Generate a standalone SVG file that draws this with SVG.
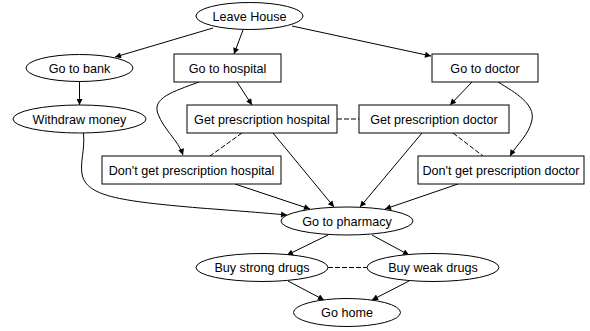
<svg xmlns="http://www.w3.org/2000/svg" width="590" height="331" viewBox="0 0 590 331">
<defs>
<marker id="ah" viewBox="0 0 10 10" refX="10" refY="5" markerWidth="8" markerHeight="6" markerUnits="userSpaceOnUse" orient="auto">
<path d="M0,0 L10,5 L0,10 z" fill="#000"/>
</marker>
<style>
.n ellipse, .n rect { fill: #fff; stroke: #000; stroke-width: 1; }
.n text { font-family: "Liberation Sans", Arial, sans-serif; font-size: 12.6px; text-anchor: middle; fill: #000; }
.e path { fill: none; stroke: #000; stroke-width: 1; }
.e .a { marker-end: url(#ah); }
.e .d { stroke-dasharray: 5,2; }
</style>
</defs>
<rect width="590" height="331" fill="#fff"/>
<g id="edges" class="e">
<path class="a" d="M213,28 L115,57"/>
<path class="a" d="M243,30 L234,54"/>
<path class="a" d="M292,26 L431,56"/>
<path class="a" d="M79.5,81.5 L79.5,105"/>
<path class="a" d="M237,82 L252,105"/>
<path class="a" d="M199,82 C172,92 152,98 158,114 C164,130 178,140 183,155"/>
<path class="a" d="M83.5,133 C85,150 80,162 82,174 C86,196 118,201 200,208 C240,211 265,213 287,215"/>
<path class="a" d="M273,133 L334,207"/>
<path class="a" d="M422,133 L360,207"/>
<path class="a" d="M235,184 L310,209"/>
<path class="a" d="M458,184 L385,209"/>
<path class="a" d="M472,82 L450,105"/>
<path class="a" d="M498,82 C516,93 535,104 532,120 C529,135 517,144 510,156"/>
<path class="a" d="M328,235 L287,255"/>
<path class="a" d="M372,235 L409,255"/>
<path class="a" d="M288,281 L324,300"/>
<path class="a" d="M409,281 L372,300"/>
<path class="d" d="M337,119 L359,119"/>
<path class="d" d="M328,267.5 L367,267.5"/>
<path class="d" d="M242,133 L210,156"/>
<path class="d" d="M453,133 L483,156"/>
</g>
<g id="leave_house" class="n"><ellipse cx="249.5" cy="16" rx="53.5" ry="13.5"/><text x="249.5" y="20.5">Leave House</text></g>
<g id="go_to_bank" class="n"><ellipse cx="79.5" cy="68" rx="53.5" ry="13.5"/><text x="79.5" y="72.5">Go to bank</text></g>
<g id="go_to_hospital" class="n"><rect x="174" y="54" width="107" height="28"/><text x="227.5" y="72.5">Go to hospital</text></g>
<g id="go_to_doctor" class="n"><rect x="432" y="54" width="106" height="28"/><text x="485" y="72.5">Go to doctor</text></g>
<g id="withdraw_money" class="n"><ellipse cx="79.5" cy="119" rx="66.5" ry="14"/><text x="79.5" y="123.5">Withdraw money</text></g>
<g id="get_prescription_hospital" class="n"><rect x="187" y="105" width="150" height="28"/><text x="262" y="123.5">Get prescription hospital</text></g>
<g id="get_prescription_doctor" class="n"><rect x="359" y="105" width="150" height="28"/><text x="434" y="123.5">Get prescription doctor</text></g>
<g id="dont_get_prescription_hospital" class="n"><rect x="102" y="156" width="179" height="28"/><text x="191.5" y="174.5">Don't get prescription hospital</text></g>
<g id="dont_get_prescription_doctor" class="n"><rect x="418" y="156" width="166" height="28"/><text x="501" y="174.5">Don't get prescription doctor</text></g>
<g id="go_to_pharmacy" class="n"><ellipse cx="347" cy="221" rx="66" ry="14"/><text x="347" y="225.5">Go to pharmacy</text></g>
<g id="buy_strong_drugs" class="n"><ellipse cx="262" cy="267.5" rx="66" ry="14"/><text x="262" y="272">Buy strong drugs</text></g>
<g id="buy_weak_drugs" class="n"><ellipse cx="433" cy="267.5" rx="66" ry="14"/><text x="433" y="272">Buy weak drugs</text></g>
<g id="go_home" class="n"><ellipse cx="347" cy="312.5" rx="53.5" ry="14"/><text x="347" y="317">Go home</text></g>
</svg>
